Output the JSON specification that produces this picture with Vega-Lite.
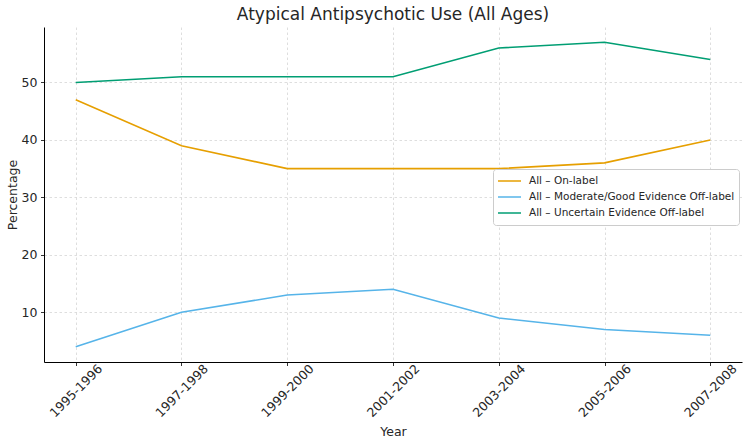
{
  "$schema": "https://vega.github.io/schema/vega-lite/v6.json",
  "width": 698,
  "height": 335,
  "autosize": {"type": "none"},
  "padding": {"left": 44, "top": 27, "right": 8, "bottom": 86},
  "background": "white",
  "config": {
    "view": {"stroke": null},
    "font": "DejaVu Sans",
    "axis": {
      "labelFont": "DejaVu Sans",
      "titleFont": "DejaVu Sans",
      "labelColor": "#262626",
      "titleColor": "#262626",
      "titleFontWeight": "normal",
      "domainColor": "#000000",
      "domainWidth": 1,
      "tickColor": "#000000",
      "tickWidth": 0.8,
      "tickSize": 3.5,
      "grid": true,
      "gridColor": "#d6d6d6",
      "gridDash": [2.5, 2.5],
      "gridWidth": 0.8
    }
  },
  "title": {
    "text": "Atypical Antipsychotic Use (All Ages)",
    "font": "DejaVu Sans",
    "fontSize": 17,
    "fontWeight": "normal",
    "color": "#262626",
    "anchor": "middle",
    "offset": 3
  },
  "data": {
    "values": [
      {"period": "1995-1996", "series": "All – On-label", "pct": 47},
      {"period": "1997-1998", "series": "All – On-label", "pct": 39},
      {"period": "1999-2000", "series": "All – On-label", "pct": 35},
      {"period": "2001-2002", "series": "All – On-label", "pct": 35},
      {"period": "2003-2004", "series": "All – On-label", "pct": 35},
      {"period": "2005-2006", "series": "All – On-label", "pct": 36},
      {"period": "2007-2008", "series": "All – On-label", "pct": 40},
      {"period": "1995-1996", "series": "All – Moderate/Good Evidence Off-label", "pct": 4},
      {"period": "1997-1998", "series": "All – Moderate/Good Evidence Off-label", "pct": 10},
      {"period": "1999-2000", "series": "All – Moderate/Good Evidence Off-label", "pct": 13},
      {"period": "2001-2002", "series": "All – Moderate/Good Evidence Off-label", "pct": 14},
      {"period": "2003-2004", "series": "All – Moderate/Good Evidence Off-label", "pct": 9},
      {"period": "2005-2006", "series": "All – Moderate/Good Evidence Off-label", "pct": 7},
      {"period": "2007-2008", "series": "All – Moderate/Good Evidence Off-label", "pct": 6},
      {"period": "1995-1996", "series": "All – Uncertain Evidence Off-label", "pct": 50},
      {"period": "1997-1998", "series": "All – Uncertain Evidence Off-label", "pct": 51},
      {"period": "1999-2000", "series": "All – Uncertain Evidence Off-label", "pct": 51},
      {"period": "2001-2002", "series": "All – Uncertain Evidence Off-label", "pct": 51},
      {"period": "2003-2004", "series": "All – Uncertain Evidence Off-label", "pct": 56},
      {"period": "2005-2006", "series": "All – Uncertain Evidence Off-label", "pct": 57},
      {"period": "2007-2008", "series": "All – Uncertain Evidence Off-label", "pct": 54}
    ]
  },
  "mark": {"type": "line", "strokeWidth": 1.6, "clip": true},
  "encoding": {
    "x": {
      "field": "period",
      "type": "ordinal",
      "scale": {"type": "point", "padding": 0.3},
      "axis": {
        "title": "Year",
        "titleFontSize": 12.5,
        "titlePadding": 6,
        "labelFontSize": 12.5,
        "labelAngle": -45,
        "labelAlign": "center",
        "labelBaseline": "middle",
        "labelPadding": 25
      }
    },
    "y": {
      "field": "pct",
      "type": "quantitative",
      "scale": {"domain": [1.35, 59.65], "nice": false, "zero": false},
      "axis": {
        "title": "Percentage",
        "titleFontSize": 12.5,
        "titlePadding": 2,
        "labelFontSize": 12.5,
        "labelPadding": 3.5,
        "values": [10, 20, 30, 40, 50]
      }
    },
    "color": {
      "field": "series",
      "type": "nominal",
      "scale": {
        "domain": [
          "All – On-label",
          "All – Moderate/Good Evidence Off-label",
          "All – Uncertain Evidence Off-label"
        ],
        "range": ["#E69F00", "#56B4E9", "#009E73"]
      },
      "legend": {
        "title": null,
        "orient": "none",
        "legendX": 449,
        "legendY": 142,
        "fillColor": "white",
        "strokeColor": "#cccccc",
        "cornerRadius": 3,
        "padding": 4,
        "symbolType": "stroke",
        "symbolSize": 529,
        "symbolStrokeWidth": 1.6,
        "clipHeight": 16,
        "rowPadding": 0,
        "labelFont": "DejaVu Sans",
        "labelFontSize": 10.5,
        "labelColor": "#262626",
        "labelOffset": 7,
        "labelLimit": 300
      }
    }
  }
}
